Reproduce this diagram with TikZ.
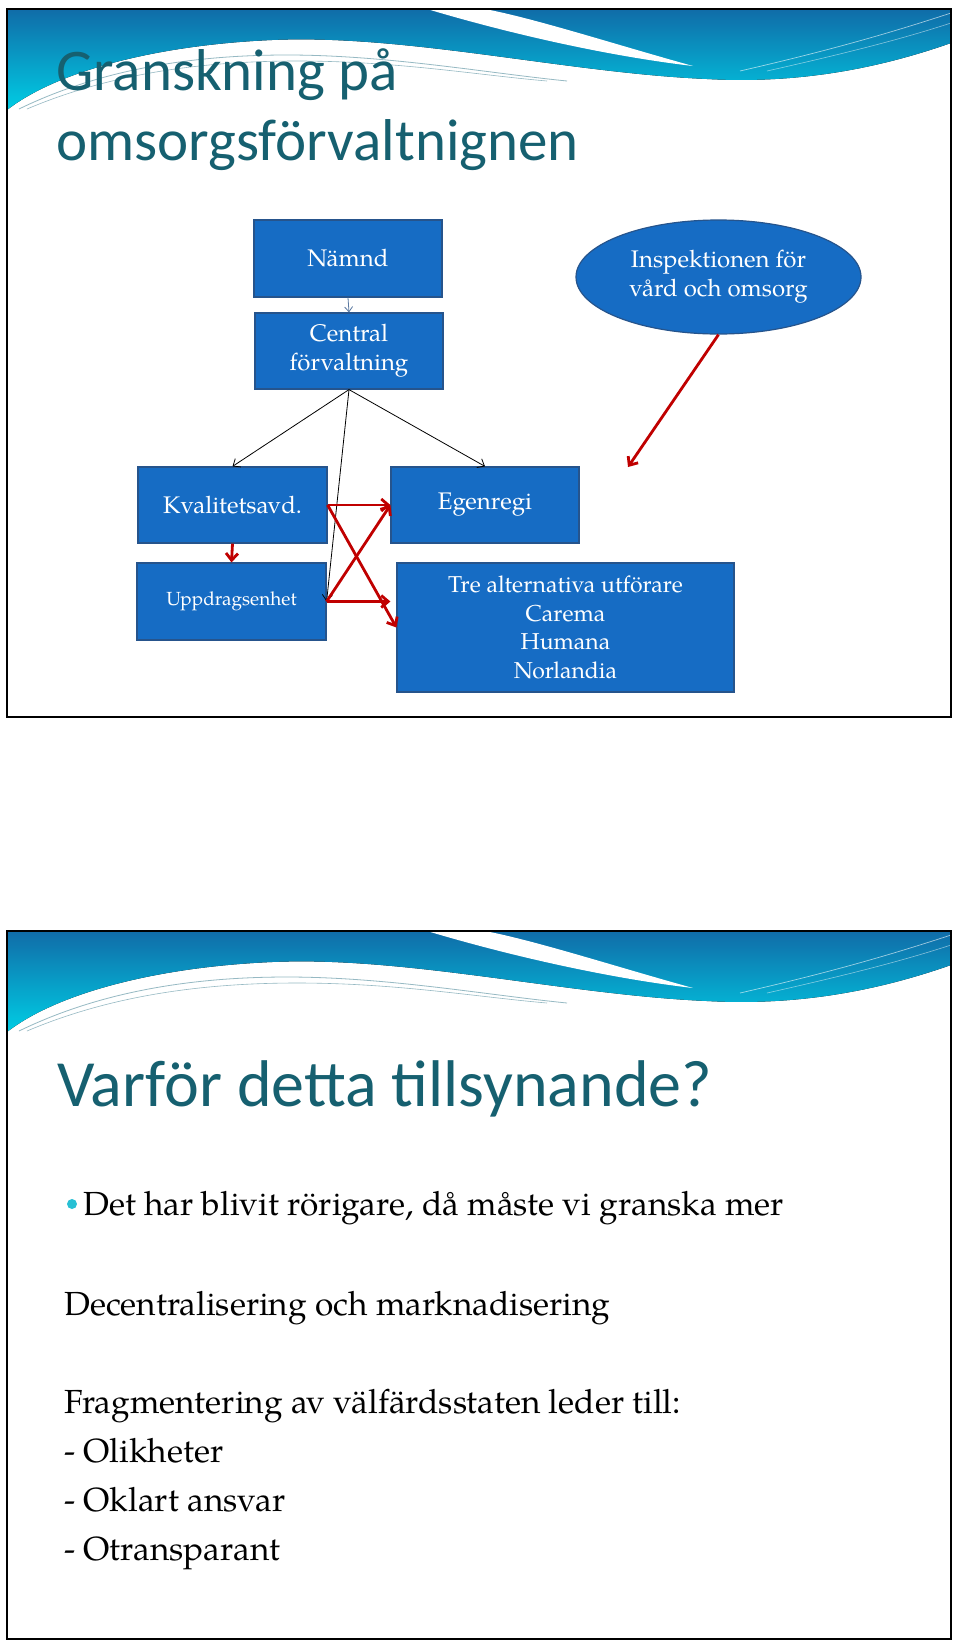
\documentclass[tikz,border=0pt]{standalone}
\usepackage{fontspec}
\setmainfont{TeX Gyre Pagella}
\newfontfamily\titlefont{Carlito}
\usetikzlibrary{arrows.meta,shapes.geometric}
\definecolor{boxfill}{RGB}{22,108,196}
\definecolor{boxline}{RGB}{38,84,140}
\definecolor{redarr}{RGB}{192,0,0}
\definecolor{titlecol}{RGB}{22,96,112}
\definecolor{hdtop}{RGB}{16,108,168}
\definecolor{hdbot}{RGB}{0,205,228}
\definecolor{bulletcol}{RGB}{40,192,212}
\definecolor{thinl}{RGB}{150,185,195}
\tikzset{
  box/.style={draw=boxline, line width=1.2, fill=boxfill, text=white, align=center, inner sep=0pt,
    font=\fontsize{24}{29}\selectfont},
  blk/.style={draw=black, line width=0.8, -{Straight Barb[length=6,width=10]}},
  redline/.style={draw=redarr, line width=2.8, -{Straight Barb[length=7,width=12,line width=2.8]}},
  slidetitle/.style={anchor=base west, inner sep=0pt, text=titlecol},
  bodytext/.style={anchor=base west, inner sep=0pt, text=black, font=\fontsize{33.4}{40}\selectfont},
}
\newcommand\slideframe{%
  \fill[white] (0,0) rectangle (944,708);
  \fill[top color=hdtop, bottom color=hdbot] (0,0) -- (944,0) -- (944,34)
     .. controls (870,60) and (790,75) .. (700,70)
     .. controls (560,64) and (400,25) .. (265,31)
     .. controls (150,36) and (50,62) .. (0,101) -- cycle;
  \fill[white] (420,0) .. controls (500,24) and (600,47) .. (686,57)
     .. controls (610,36) and (530,10) .. (478,0) -- cycle;
  \draw[thinl, line width=0.8] (12,100) .. controls (90,62) and (180,46) .. (280,46)
     .. controls (380,46) and (480,64) .. (560,72);
  \draw[thinl, line width=0.6] (20,100) .. controls (100,66) and (190,52) .. (290,52)
     .. controls (390,52) and (470,66) .. (540,72);
  \draw[white, opacity=0.6, line width=0.7] (733,62) .. controls (820,42) and (880,25) .. (944,4);
  \draw[white, opacity=0.5, line width=0.6] (760,62) .. controls (840,44) and (895,30) .. (944,14);
  \draw[black, line width=2.5] (0,0) rectangle (944,708);
}
\begin{document}
\begin{tikzpicture}[x=1pt,y=-1pt]
\useasboundingbox (0,0) rectangle (960,1641);
\fill[white] (0,0) rectangle (960,1641);
% ---------- slide 1 ----------
\begin{scope}[shift={(7,9)}]
  \slideframe
\end{scope}
\node[slidetitle, font=\titlefont\fontsize{59}{70}\selectfont] (t1a) at (56,90) {Granskning på};
\node[slidetitle, font=\titlefont\fontsize{59}{70}\selectfont] (t1b) at (56,160) {omsorgsförvaltnignen};

\node[box, minimum width=188, minimum height=77] (namnd) at (348,258.5) {Nämnd};
\node[box, minimum width=188, minimum height=76] (central) at (349,351) {Central\\förvaltning};
\node[box, minimum width=189, minimum height=76] (kval) at (232.5,505) {Kvalitetsavd.};
\node[box, minimum width=188, minimum height=76] (egen) at (485,505) {Egenregi};
\node[box, minimum width=189, minimum height=77, font=\fontsize{19}{23}\selectfont] (upp) at (231.5,601.5) {Uppdragsenhet};
\node[box, minimum width=337, minimum height=129, font=\fontsize{23}{28.5}\selectfont] (tre) at (565.5,627.5)
  {Tre alternativa utförare\\Carema\\Humana\\Norlandia};
\node[box, ellipse, minimum width=285, minimum height=114] (insp) at (718.5,277)
  {Inspektionen för\\vård och omsorg};
\coordinate (inspend) at (628,467);

\draw[draw={rgb,255:red,90;green,120;blue,160}, line width=0.8, -{Straight Barb[length=5,width=8]}] (namnd.south) -- (central.north);
\draw[blk] (central.south) -- (kval.north);
\draw[blk] (central.south) -- (egen.north);
\draw[blk] (central.south) -- (upp.east);

\draw[redline] (kval.south) -- (upp.north);
\draw[redline] (kval.east) -- (egen.west);
\draw[redline] (kval.east) -- (tre.west);
\draw[redline] (upp.east) -- (egen.west);
\draw[redline, shorten >=6] (upp.east) -- (upp.east -| tre.west);
\draw[redline] (insp.south) -- (inspend);

% ---------- slide 2 ----------
\begin{scope}[shift={(7,931)}]
  \slideframe
\end{scope}
\node[slidetitle, font=\titlefont\fontsize{66}{78}\selectfont] (t2) at (57,1106) {Varför detta tillsynande?};
\fill[bulletcol] (72,1204) circle (5);
\node[bodytext] (b1) at (83,1215) {Det har blivit rörigare, då måste vi granska mer};
\node[bodytext] (b2) at (64,1315) {Decentralisering och marknadisering};
\node[bodytext] (b3) at (64,1413) {Fragmentering av välfärdsstaten leder till:};
\node[bodytext] (b4) at (64,1462) {- Olikheter};
\node[bodytext] (b5) at (64,1511) {- Oklart ansvar};
\node[bodytext] (b6) at (64,1560) {- Otransparant};
\end{tikzpicture}
\end{document}
